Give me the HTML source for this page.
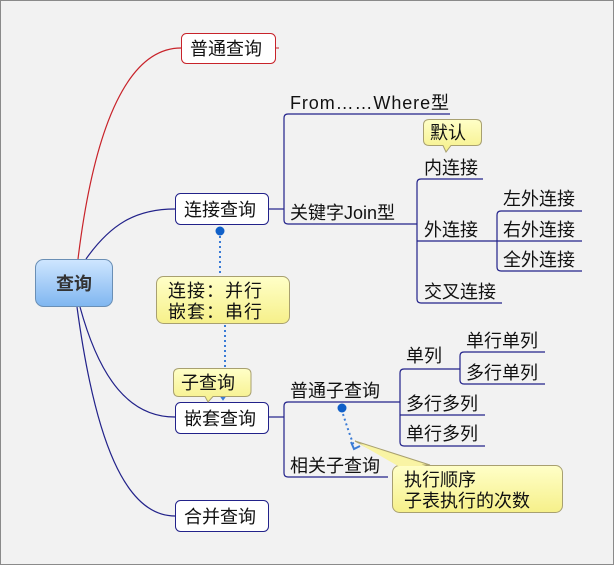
<!DOCTYPE html>
<html><head><meta charset="utf-8"><style>
html,body{margin:0;padding:0;background:#f2f2f2;}
svg{display:block;}
text{font-family:"Liberation Sans","Noto Sans CJK SC",sans-serif;font-size:18px;fill:#111;}
</style></head><body>
<svg width="614" height="565" viewBox="0 0 614 565" xmlns="http://www.w3.org/2000/svg">
<defs>
<linearGradient id="rg" x1="0" y1="0" x2="0" y2="1"><stop offset="0" stop-color="#cfe6ff"/><stop offset="1" stop-color="#7fb6f0"/></linearGradient>
<linearGradient id="yg" x1="0" y1="0" x2="0" y2="1"><stop offset="0" stop-color="#ffffc8"/><stop offset="1" stop-color="#f6f08a"/></linearGradient>
</defs>
<rect x="0.5" y="0.5" width="613" height="564" fill="#f2f2f2" stroke="#8a8a8a"/>
<path d="M78 259 C 95 120, 130 48, 181 48" fill="none" stroke="#c8232a" stroke-width="1.2"/>
<path d="M86 259 C 110 225, 135 209, 175 209" fill="none" stroke="#22228a" stroke-width="1.2"/>
<path d="M80 307 C 100 380, 130 417, 175 417" fill="none" stroke="#22228a" stroke-width="1.2"/>
<path d="M77 307 C 95 440, 125 516, 175 516" fill="none" stroke="#22228a" stroke-width="1.2"/>
<rect x="35.5" y="259.5" width="77" height="47" rx="8" fill="url(#rg)" stroke="#6a8fb5"/>
<text x="74" y="290" text-anchor="middle" style="font-weight:bold;font-size:18px;fill:#333">查询</text>
<rect x="181.5" y="33.5" width="94" height="30" rx="5" fill="#fff" stroke="#c8232a"/>
<text x="190" y="55">普通查询</text>
<line x1="275" y1="48" x2="279" y2="48" stroke="#c8232a"/>
<rect x="175.5" y="193.5" width="93" height="31" rx="5" fill="#fff" stroke="#22228a"/>
<text x="184" y="216">连接查询</text>
<rect x="175.5" y="402.5" width="93" height="31" rx="5" fill="#fff" stroke="#22228a"/>
<text x="184" y="425">嵌套查询</text>
<rect x="175.5" y="500.5" width="93" height="31" rx="5" fill="#fff" stroke="#22228a"/>
<text x="184" y="523">合并查询</text>
<g fill="none" stroke="#22228a" stroke-width="1.2">
<line x1="268" y1="209" x2="284" y2="209"/>
<path d="M450 114 H288 Q284 114 284 118 V220 Q284 224 288 224 H417"/>
<path d="M483 179 H421 Q417 179 417 183 V299 Q417 303 421 303 H502"/>
<line x1="417" y1="241" x2="497" y2="241"/>
<path d="M582 211 H501 Q497 211 497 215 V267 Q497 271 501 271 H582"/>
<line x1="497" y1="241" x2="582" y2="241"/>
<line x1="268" y1="417" x2="284" y2="417"/>
<path d="M400 402 H288 Q284 402 284 406 V473 Q284 477 288 477 H388"/>
<path d="M460 369 H404 Q400 369 400 373 V442 Q400 446 404 446 H485"/>
<line x1="400" y1="415" x2="485" y2="415"/>
<path d="M545 352 H464 Q460 352 460 356 V380 Q460 384 464 384 H545"/>
</g>
<text x="290" y="109" textLength="159">From……Where型</text>
<text x="290" y="219">关键字Join型</text>
<text x="424" y="174">内连接</text>
<text x="424" y="236">外连接</text>
<text x="424" y="298">交叉连接</text>
<text x="503" y="205">左外连接</text>
<text x="503" y="236">右外连接</text>
<text x="503" y="266">全外连接</text>
<text x="290" y="397">普通子查询</text>
<text x="290" y="472">相关子查询</text>
<text x="406" y="362">单列</text>
<text x="406" y="410">多行多列</text>
<text x="406" y="440">单行多列</text>
<text x="466" y="347">单行单列</text>
<text x="466" y="379">多行单列</text>
<circle cx="220" cy="231" r="4.5" fill="#1060c8"/>
<line x1="220" y1="236" x2="220" y2="273" stroke="#3a7bd5" stroke-width="2" stroke-dasharray="2,3"/>
<line x1="225" y1="325" x2="225" y2="396" stroke="#3a7bd5" stroke-width="2" stroke-dasharray="2,3"/>
<path d="M218 392 L223 399 L228 392" fill="none" stroke="#3a7bd5" stroke-width="2"/>
<circle cx="342" cy="408" r="4.5" fill="#1060c8"/>
<path d="M343 414 Q348 430 354 446" fill="none" stroke="#3a7bd5" stroke-width="2" stroke-dasharray="2,3"/>
<path d="M351 442 L354 449 L360 446" fill="none" stroke="#3a7bd5" stroke-width="2"/>
<rect x="156.5" y="276.5" width="133" height="47" rx="7" fill="url(#yg)" stroke="#a8a070"/>
<text x="168" y="297" style="letter-spacing:1px">连接：并行</text>
<text x="168" y="318" style="letter-spacing:1px">嵌套：串行</text>
<path d="M179.5 368.5 H245 Q251 368.5 251 374 V391 Q251 396.5 245 396.5 H213 L208 402 L205 396.5 H179 Q173.5 396.5 173.5 391 V374 Q173.5 368.5 179.5 368.5 Z" fill="url(#yg)" stroke="#a8a070"/>
<text x="181" y="389">子查询</text>
<path d="M429.5 119.5 H476 Q481.5 119.5 481.5 125 V140 Q481.5 145.5 476 145.5 H451 L446 152 L443 145.5 H429.5 Q423.5 145.5 423.5 140 V125 Q423.5 119.5 429.5 119.5 Z" fill="url(#yg)" stroke="#a8a070"/>
<text x="430" y="139">默认</text>
<path d="M355 441 L400 465 L430 465 Z" fill="#f8f3a0" stroke="#a8a070"/>
<rect x="392.5" y="465.5" width="170" height="47" rx="7" fill="url(#yg)" stroke="#a8a070"/>
<path d="M358 443 L398 466 L426 466 Z" fill="#f9f4a4"/>
<text x="404" y="486">执行顺序</text>
<text x="404" y="507">子表执行的次数</text>
</svg>
</body></html>
